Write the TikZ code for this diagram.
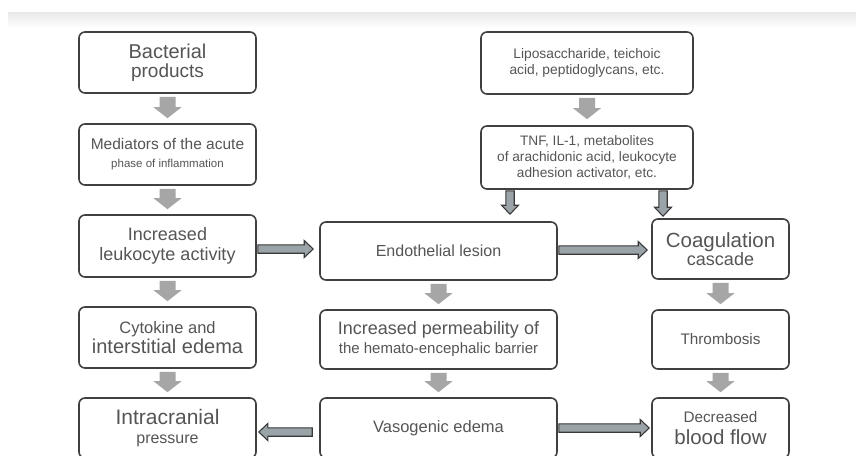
\documentclass[tikz,border=0pt]{standalone}
\usepackage{fontspec}
\setmainfont{Liberation Sans}
\usetikzlibrary{calc}
\definecolor{boxline}{HTML}{404040}
\definecolor{txt}{HTML}{555555}
\definecolor{fatgray}{HTML}{A6A6A6}
\definecolor{arrowfill}{HTML}{9AA3A7}
\definecolor{arrowline}{HTML}{383838}
\newcommand\fs[2]{\fontsize{#1}{#2}\selectfont}
\begin{document}
\begin{tikzpicture}[x=1pt,y=-1pt,
  box/.style={draw=boxline, line width=1.6pt, rounded corners=6pt, fill=white,
    text=txt, align=center, inner sep=0pt},
  blockpath/.style={to path={
    ($(\tikztostart)!\bsh!90:(\tikztotarget)$)
    -- ($(\tikztotarget)!\bhl!(\tikztostart)!\bsh!90:(\tikztotarget)$)
    -- ($(\tikztotarget)!\bhl!(\tikztostart)!\bhh!90:(\tikztotarget)$)
    -- (\tikztotarget)
    -- ($(\tikztotarget)!\bhl!(\tikztostart)!\bhh!-90:(\tikztotarget)$)
    -- ($(\tikztotarget)!\bhl!(\tikztostart)!\bsh!-90:(\tikztotarget)$)
    -- ($(\tikztostart)!\bsh!-90:(\tikztotarget)$) -- cycle}},
  fatarrow/.style={blockpath, fill=fatgray,
    /utils/exec={\def\bsh{8pt}\def\bhh{14pt}\def\bhl{11pt}}},
  outarrow/.style={blockpath, fill=arrowfill, draw=arrowline, line width=1.1pt,
    line join=miter, /utils/exec={\def\bsh{4.2pt}\def\bhh{8.5pt}\def\bhl{9pt}}}
]
\useasboundingbox (0,0) rectangle (856,455);
\fill[white] (0,0) rectangle (856,455);
\shade[top color=black!9, bottom color=white] (8,12) rectangle (856,28);

% left column
\node[box, minimum width=177, minimum height=61, font=\fs{20}{19}] (bact) at (167.5,62.5)
  {Bacterial\\\fs{19}{19}products};
\node[box, minimum width=177, minimum height=61, font=\fs{15.5}{18}] (med) at (167.5,154.5)
  {Mediators of the acute\\\fs{11.5}{18}phase of inflammation};
\node[box, minimum width=177, minimum height=62, font=\fs{18}{20}] (leuk) at (167.5,246)
  {Increased\\leukocyte activity};
\node[box, minimum width=177, minimum height=61, font=\fs{16.5}{20}] (cyto) at (167.5,337.5)
  {Cytokine and\\\fs{20}{20}interstitial edema};
\node[box, minimum width=177, minimum height=60, font=\fs{21}{19}] (icp) at (167.5,428)
  {Intracranial\\\fs{16}{19}pressure};

% top right
\node[box, minimum width=212, minimum height=62, font=\fs{13.8}{16}] (lipo) at (587,63)
  {Liposaccharide, teichoic\\acid, peptidoglycans, etc.};
\node[box, minimum width=212, minimum height=63, font=\fs{13.7}{16}] (tnf) at (587,157.5)
  {TNF, IL-1, metabolites\\of arachidonic acid, leukocyte\\adhesion activator, etc.};

% middle column
\node[box, minimum width=237, minimum height=58, font=\fs{16}{19}] (endo) at (438.5,251)
  {Endothelial lesion};
\node[box, minimum width=237, minimum height=59, font=\fs{18}{19}] (perm) at (438.5,339.5)
  {Increased permeability of\\\fs{15}{19}the hemato-encephalic barrier};
\node[box, minimum width=237, minimum height=60, font=\fs{16.5}{19}] (vaso) at (438.5,428)
  {Vasogenic edema};

% right column
\node[box, minimum width=137, minimum height=60, font=\fs{20.5}{18}] (coag) at (720.5,249)
  {Coagulation\\\fs{18}{18}cascade};
\node[box, minimum width=137, minimum height=59, font=\fs{15.3}{18}] (thromb) at (720.5,339.5)
  {Thrombosis};
\node[box, minimum width=137, minimum height=60, font=\fs{15.3}{22}] (decr) at (720.5,428)
  {Decreased\\\fs{20.5}{22}blood flow};

% fat grey arrows
\path[fatarrow] ($(bact.south)+(0,3)$) to ($(med.north)+(0,-5)$);
\path[fatarrow] ($(med.south)+(0,3)$) to ($(leuk.north)+(0,-5)$);
\path[fatarrow] ($(leuk.south)+(0,3)$) to ($(cyto.north)+(0,-5)$);
\path[fatarrow] ($(cyto.south)+(0,3)$) to ($(icp.north)+(0,-5)$);
\path[fatarrow] ($(lipo.south)+(0,3)$) to ($(tnf.north)+(0,-6)$);
\path[fatarrow] ($(endo.south)+(0,3)$) to ($(perm.north)+(0,-5)$);
\path[fatarrow] ($(perm.south)+(0,3)$) to ($(vaso.north)+(0,-5)$);
\path[fatarrow] ($(coag.south)+(0,3)$) to ($(thromb.north)+(0,-5)$);
\path[fatarrow] ($(thromb.south)+(0,3)$) to ($(decr.north)+(0,-5)$);

% outlined arrows
\draw[outarrow] ($(tnf.south)+(-77,1)$) to ($(tnf.south |- endo.north)+(-77,-7)$);
\draw[outarrow] ($(tnf.south)+(76,1)$) to ($(tnf.south |- coag.north)+(76,-2)$);
\draw[outarrow] ($(leuk.east)+(1,3)$) to ($(leuk.east -| endo.west)+(-6,3)$);
\draw[outarrow] ($(endo.east)+(1,-1)$) to ($(endo.east -| coag.west)+(-4,-1)$);
\draw[outarrow] ($(vaso.west)+(-7,4)$) to ($(vaso.west -| icp.east)+(2,4)$);
\draw[outarrow] ($(vaso.east)+(1,0)$) to ($(vaso.east -| decr.west)+(-2,0)$);
\end{tikzpicture}
\end{document}
